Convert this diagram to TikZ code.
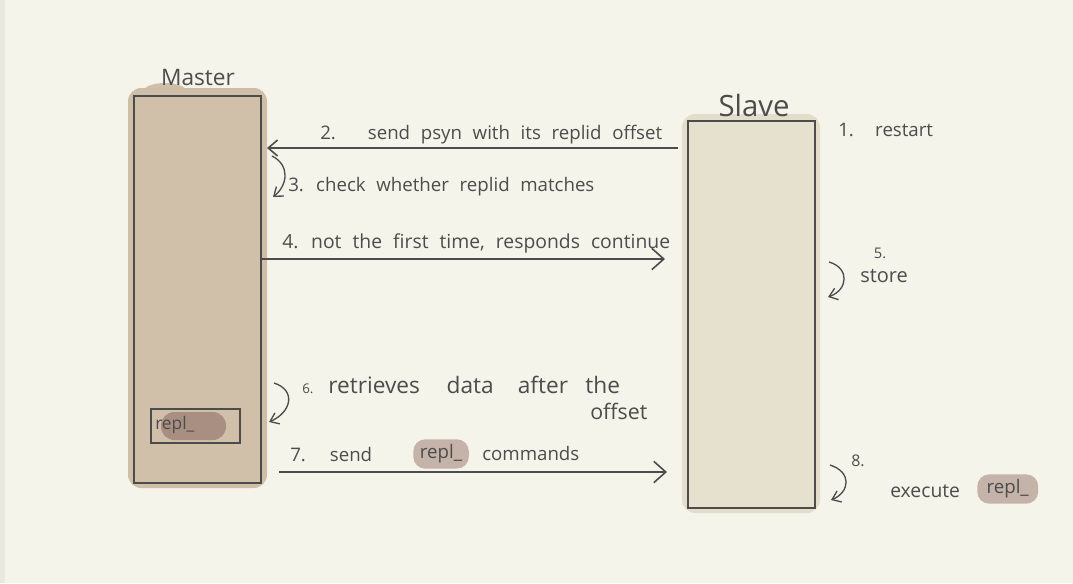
\documentclass[tikz,border=0pt]{standalone}
\usepackage{fontspec}
\setmainfont[WordSpace=2.2]{Open Sans}
\usetikzlibrary{arrows.meta}
\definecolor{bg}{HTML}{F5F4EA}
\definecolor{edge}{HTML}{E9E8DF}
\definecolor{ink}{HTML}{4C4C4C}
\definecolor{masterfill}{HTML}{D0C0AA}
\definecolor{mastershade}{HTML}{CFBFA8}
\definecolor{slavefill}{HTML}{E6E0CF}
\definecolor{slaveshade}{HTML}{E4DDCB}
\definecolor{hl}{HTML}{C5B3A9}
\definecolor{hldark}{HTML}{A98F81}
\newcommand{\fs}[1]{\fontsize{#1}{#1}\selectfont}
\begin{document}
\begin{tikzpicture}[x=0.75pt,y=-0.75pt,
  lbl/.style={text=ink, inner sep=0pt, anchor=west},
  lifebox/.style={draw=ink, line width=1.3pt, minimum width=95.25pt, minimum height=290.25pt, inner sep=0pt},
  arr/.style={draw=ink, line width=1.2pt},
  selfarr/.style={draw=ink, line width=1pt, -{Straight Barb[length=6pt,width=9pt]}},
  pill/.style={fill=hl, rounded corners=9pt, inner xsep=7pt, inner ysep=4pt, text=ink}]
\fill[bg] (0,0) rectangle (1073,583);
\fill[edge] (0,0) rectangle (5,583);
% shadows
\fill[mastershade, rounded corners=10pt] (128,88) rectangle (267,488);
\fill[mastershade] (165,92) ellipse[x radius=22, y radius=9];
\fill[slaveshade, rounded corners=10pt] (682,114) rectangle (820,513);
% boxes
\node[lifebox, fill=masterfill] (master) at (197.5,289.5) {};
\node[lifebox, fill=slavefill] (slave) at (751.5,314.5) {};
\node[text=ink, inner sep=0pt, font=\fs{17}] (mlab) at (198,78) {Master};
\node[text=ink, inner sep=0pt, font=\fs{22}] (slab) at (754,105) {Slave};
% inner repl box
\node[draw=ink, line width=1.2pt, minimum width=66.75pt, minimum height=25.5pt, inner sep=0pt] (rbox) at (195.5,426) {};
\fill[hldark, rounded corners=10pt] (161,412) rectangle (226,440);
\node[lbl, font=\fs{13}] (rtext) at (155,425) {repl\_};
% step 1
\node[lbl, font=\fs{14}] (s1) at (838,130) {1.\hspace{16pt}restart};
% step 2
\coordinate (a2s) at (678,148);
\coordinate (a2e) at (267,148);
\draw[arr, -{Straight Barb[length=7pt,width=12pt]}] (a2s) -- (a2e);
\node[lbl, font=\fs{14}] (s2) at (320,135) {2.\hspace{24pt}send psyn with its replid offset};
% step 3
\coordinate (c3a) at (272,156);
\coordinate (c3b) at (273,197);
\draw[selfarr] (c3a) .. controls (290,165) and (288,185) .. (c3b);
\node[lbl, font=\fs{14}] (s3) at (288,187) {3. check whether replid matches};
% step 4
\coordinate (a4e) at (665,259);
\draw[arr, -{Straight Barb[length=9pt,width=16pt]}] (master.east |- a4e) -- (a4e);
\node[lbl, font=\fs{14.5}] (s4) at (282,243) {4. not the first time, responds continue};
% step 5
\coordinate (c5a) at (829,262);
\coordinate (c5b) at (828,297);
\draw[selfarr] (c5a) .. controls (850,268) and (848,290) .. (c5b);
\node[text=ink, inner sep=0pt, font=\fs{11}] (s5n) at (880,253) {5.};
\node[lbl, font=\fs{15}] (s5) at (860,276) {store};
% step 6
\coordinate (c6a) at (274,383);
\coordinate (c6b) at (269,422);
\draw[selfarr] (c6a) .. controls (296,390) and (292,412) .. (c6b);
\node[lbl, font=\fs{17}] (s6) at (302,385) {{\fs{10}6.} retrieves\hspace{20pt}data\hspace{18pt}after\hspace{13pt}the};
\node[lbl, font=\fs{16}] (s6b) at (590,411) {offset};
% step 7
\coordinate (a7s) at (279,472);
\coordinate (a7e) at (667,472);
\draw[arr, -{Straight Barb[length=9pt,width=16pt]}] (a7s) -- (a7e);
\node[lbl, font=\fs{14}] (s7a) at (290,455) {7.\hspace{18pt}send};
\node[pill, font=\fs{14}, anchor=west, inner xsep=5pt] (s7r) at (413,454) {repl\_};
\node[lbl, font=\fs{14}] (s7b) at (482,453) {commands};
% step 8
\coordinate (c8a) at (830,465);
\coordinate (c8b) at (831,500);
\draw[selfarr] (c8a) .. controls (852,472) and (850,492) .. (c8b);
\node[text=ink, inner sep=0pt, font=\fs{12}] (s8n) at (858,461) {8.};
\node[lbl, font=\fs{14.5}] (s8) at (890,491) {execute};
\node[pill, font=\fs{14}, anchor=west] (s8r) at (977,489) {repl\_};
\end{tikzpicture}
\end{document}
